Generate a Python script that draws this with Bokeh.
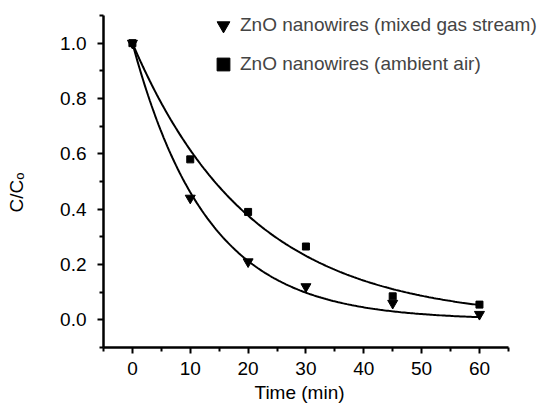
import numpy as np
from bokeh.plotting import figure
from bokeh.models import Legend, LegendItem, FixedTicker, CustomJSTickFormatter, Title
from bokeh.embed import file_html
from bokeh.resources import INLINE

# Data
time_mixed = [0, 10, 20, 30, 45, 60]
conc_mixed = [1.0, 0.44, 0.21, 0.12, 0.06, 0.02]
time_air = [0, 10, 20, 30, 45, 60]
conc_air = [1.0, 0.58, 0.39, 0.265, 0.085, 0.055]
label_mixed = "ZnO nanowires (mixed gas stream)"
label_air = "ZnO nanowires (ambient air)"
x_label = "Time (min)"
y_label = "C/Cₒ"
x_ticks = [0, 10, 20, 30, 40, 50, 60]
x_minor = [-5, 5, 15, 25, 35, 45, 55, 65]
y_ticks = [0.0, 0.2, 0.4, 0.6, 0.8, 1.0]
y_minor = [-0.1, 0.1, 0.3, 0.5, 0.7, 0.9, 1.1]


def fit_rate(t, c):
    # least-squares fit of C/C0 = exp(-k t)
    t = np.asarray(t, float)
    c = np.asarray(c, float)
    ks = np.linspace(0.001, 0.3, 30000)
    err = [np.sum((c - np.exp(-k * t)) ** 2) for k in ks]
    return ks[int(np.argmin(err))]


k_mixed = fit_rate(time_mixed, conc_mixed)
k_air = fit_rate(time_air, conc_air)
t_fit = np.linspace(0, 60, 200)

FONT = "Liberation Sans"

# frame is extended to the right (beyond x=65) so the legend is not clipped;
# the x axis itself is bounded to [-5, 65]
p = figure(frame_width=439, frame_height=332,
           min_border_left=103, min_border_top=15, min_border_right=2, min_border_bottom=58,
           x_range=(-5, 70.9), y_range=(-0.1, 1.1),
           output_backend="svg", toolbar_location=None)
p.outline_line_color = None
p.grid.visible = False
p.background_fill_color = "white"
p.border_fill_color = "white"

p.line(t_fit, np.exp(-k_mixed * t_fit), line_color="black", line_width=2)
p.line(t_fit, np.exp(-k_air * t_fit), line_color="black", line_width=2)

r1 = p.scatter(time_mixed, conc_mixed, marker="inverted_triangle", size=10,
               fill_color="black", line_color="black")
r2 = p.scatter(time_air, conc_air, marker="square", size=7,
               fill_color="black", line_color="black")

for ax in (p.xaxis[0], p.yaxis[0]):
    ax.axis_line_width = 2.5
    ax.axis_line_color = "black"
    ax.major_tick_line_width = 2
    ax.minor_tick_line_width = 2
    ax.major_tick_out = 6
    ax.major_tick_in = 0
    ax.minor_tick_out = 4
    ax.minor_tick_in = 0
    ax.major_label_text_font = FONT
    ax.major_label_text_font_size = "19px"
    ax.major_label_text_color = "black"

p.xaxis[0].ticker = FixedTicker(ticks=x_ticks, minor_ticks=x_minor)
p.yaxis[0].ticker = FixedTicker(ticks=y_ticks, minor_ticks=y_minor)
p.xaxis[0].bounds = (-5, 65)
p.yaxis[0].formatter = CustomJSTickFormatter(code="return tick.toFixed(1);")
p.xaxis.major_label_standoff = 8
p.yaxis.major_label_standoff = 11

# axis titles placed as titles so they centre on the drawn axis, not the frame
p.add_layout(Title(text=x_label, align="left", offset=151, text_font=FONT,
                   text_font_size="19px", text_font_style="normal",
                   text_color="black", standoff=4), "below")
# spacer panel, then the y title further out
p.add_layout(Title(text=" ", text_font_size="2px", standoff=27), "left")
p.add_layout(Title(text=y_label, align="left", offset=135, text_font=FONT,
                   text_font_size="19px", text_font_style="normal",
                   text_color="black", standoff=0), "left")

legend = Legend(items=[LegendItem(label=label_mixed, renderers=[r1]),
                       LegendItem(label=label_air, renderers=[r2])],
                location=(104, 267), border_line_color=None, background_fill_alpha=0,
                label_text_font=FONT, label_text_font_size="19px",
                glyph_width=32, glyph_height=32, spacing=7, padding=0, margin=0,
                label_standoff=1)
p.add_layout(legend)

open("out.html", "w").write(file_html(p, INLINE))
